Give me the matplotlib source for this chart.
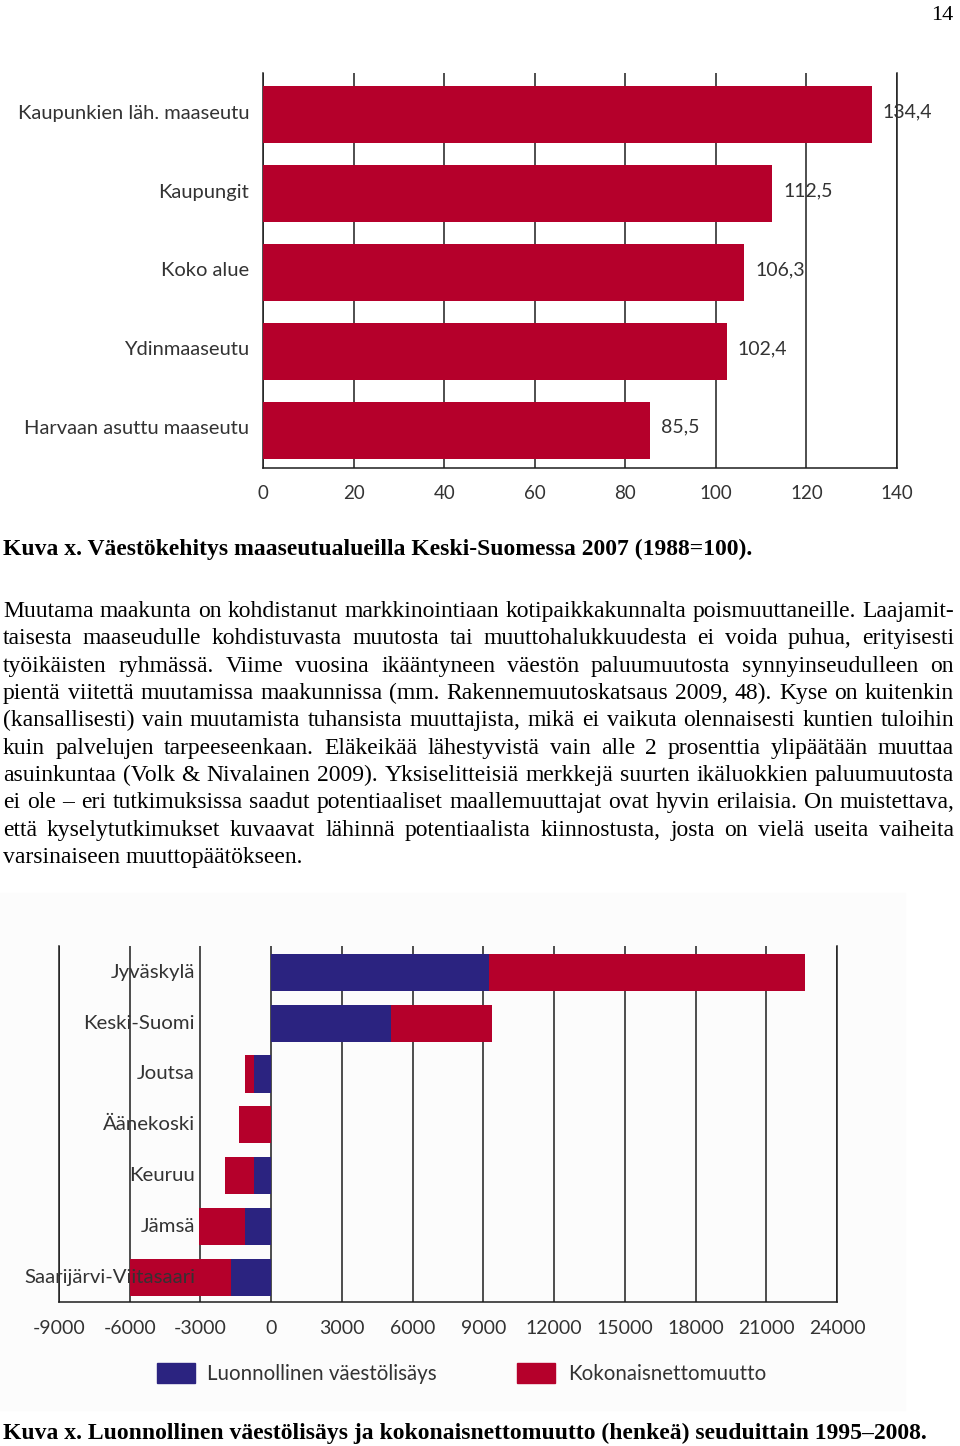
import matplotlib
matplotlib.use('Agg')
import matplotlib.pyplot as plt
from matplotlib.patches import Rectangle

# --- data: ylempi kuva (1988=100)
areas = ['Kaupunkien läh. maaseutu', 'Kaupungit', 'Koko alue', 'Ydinmaaseutu', 'Harvaan asuttu maaseutu']
index_2007 = [134.4, 112.5, 106.3, 102.4, 85.5]
index_ticks = [0, 20, 40, 60, 80, 100, 120, 140]

# --- data: alempi kuva (henkeä 1995-2008)
regions = ['Jyväskylä', 'Keski-Suomi', 'Joutsa', 'Äänekoski', 'Keuruu', 'Jämsä', 'Saarijärvi-Viitasaari']
natural = [9230, 5100, -735, 0, -735, -1120, -1690]
net_migration = [13430, 4280, -380, -1360, -1210, -1940, -4300]
people_ticks = [-9000, -6000, -3000, 0, 3000, 6000, 9000, 12000, 15000, 18000, 21000, 24000]
legend_labels = ['Luonnollinen väestölisäys', 'Kokonaisnettomuutto']

caption1 = 'Kuva x. Väestökehitys maaseutualueilla Keski-Suomessa 2007 (1988=100).'
caption2 = 'Kuva x. Luonnollinen väestölisäys ja kokonaisnettomuutto (henkeä) seuduittain 1995–2008.'
body = [
    'Muutama maakunta on kohdistanut markkinointiaan kotipaikkakunnalta poismuuttaneille. Laajamit-',
    'taisesta maaseudulle kohdistuvasta muutosta tai muuttohalukkuudesta ei voida puhua, erityisesti',
    'työikäisten ryhmässä. Viime vuosina ikääntyneen väestön paluumuutosta synnyinseudulleen on',
    'pientä viitettä muutamissa maakunnissa (mm. Rakennemuutoskatsaus 2009, 48). Kyse on kuitenkin',
    '(kansallisesti) vain muutamista tuhansista muuttajista, mikä ei vaikuta olennaisesti kuntien tuloihin',
    'kuin palvelujen tarpeeseenkaan. Eläkeikää lähestyvistä vain alle 2 prosenttia ylipäätään muuttaa',
    'asuinkuntaa (Volk & Nivalainen 2009). Yksiselitteisiä merkkejä suurten ikäluokkien paluumuutosta',
    'ei ole – eri tutkimuksissa saadut potentiaaliset maallemuuttajat ovat hyvin erilaisia. On muistettava,',
    'että kyselytutkimukset kuvaavat lähinnä potentiaalista kiinnostusta, josta on vielä useita vaiheita',
    'varsinaiseen muuttopäätökseen.',
]

RED = '#b5002b'
BLUE = '#2b2380'
GRID = '#1e1e1e'
TXT = '#333333'
SANS = 'Lato'
SERIF = 'Liberation Serif'

W, H = 960, 1446
fig = plt.figure(figsize=(W / 100, H / 100), dpi=100)


def px_axes(x0, y0, x1, y1):
    return fig.add_axes([x0 / W, 1 - y1 / H, (x1 - x0) / W, (y1 - y0) / H])


def style_axes(ax):
    ax.spines['top'].set_visible(False)
    for s in ['left', 'right', 'bottom']:
        ax.spines[s].set_color(GRID)
        ax.spines[s].set_linewidth(1.1)
    ax.grid(axis='x', color=GRID, linewidth=1.1, zorder=0)
    ax.set_axisbelow(True)


# page background of the lower chart
fig.patches.append(Rectangle((0, 1 - 1410 / H), 905 / W, (1410 - 893) / H,
                             transform=fig.transFigure, color='#fcfcfc', zorder=-10))

# ---------- ylempi kuva
ax1 = px_axes(263, 73, 897, 468)
ypos = list(range(len(areas)))
ax1.barh(ypos, index_2007, height=0.72, color=RED, zorder=3)
ax1.set_xlim(0, 140)
ax1.set_ylim(4.48, -0.526)
ax1.set_xticks(index_ticks)
ax1.set_xticklabels([str(t) for t in index_ticks], fontsize=13.5, family=SANS, color=TXT)
ax1.set_yticks([])
ax1.tick_params(axis='x', length=0, pad=12)
style_axes(ax1)
for i, name in enumerate(areas):
    ax1.annotate(name, xy=(0, i), xytext=(-10, 1), textcoords='offset points',
                 ha='right', va='center', fontsize=14.5, family=SANS, color=TXT,
                 annotation_clip=False)
for i, v in enumerate(index_2007):
    ax1.annotate(f'{v:.1f}'.replace('.', ','), xy=(v, i), xytext=(8, 2),
                 textcoords='offset points', va='center', ha='left',
                 fontsize=14, family=SANS, color=TXT)

# ---------- alempi kuva
ax2 = px_axes(59, 946, 837, 1302)
ax2.patch.set_alpha(0)
ypos2 = list(range(len(regions)))
ax2.barh(ypos2, natural, height=0.73, color=BLUE, zorder=3, label=legend_labels[0])
ax2.barh(ypos2, net_migration, left=natural, height=0.73, color=RED, zorder=3,
         label=legend_labels[1])
ax2.set_xlim(-9000, 24000)
ax2.set_ylim(6.49, -0.52)
ax2.set_xticks(people_ticks)
ax2.set_xticklabels([str(t) for t in people_ticks], fontsize=14, family=SANS, color=TXT)
ax2.set_yticks([])
ax2.tick_params(axis='x', length=0, pad=13)
style_axes(ax2)
for i, name in enumerate(regions):
    ax2.text(0.1748, i, name, transform=ax2.get_yaxis_transform(), ha='right', va='center',
             fontsize=14.7, family=SANS, color=TXT, zorder=6)

# legend
for (bx, tx), col, lab in zip([(157, 207), (517, 568)], [BLUE, RED], legend_labels):
    fig.patches.append(Rectangle((bx / W, 1 - 1383 / H), 38 / W, 20 / H,
                                 transform=fig.transFigure, color=col))
    fig.text(tx / W, 1 - 1374 / H, lab, ha='left', va='center',
             fontsize=14.8, family=SANS, color=TXT)

# ---------- tekstit
fig.text(953 / W, 1 - 20 / H, '14', ha='right', va='baseline', fontsize=16, family=SERIF)
fig.text(3 / W, 1 - 555 / H, caption1, ha='left', va='baseline', fontsize=17,
         family=SERIF, weight='bold')
fig.text(3 / W, 1 - 1439 / H, caption2, ha='left', va='baseline', fontsize=17,
         family=SERIF, weight='bold')

renderer = fig.canvas.get_renderer()
x_left, x_right = 3, 954
for n, line in enumerate(body):
    y = 617 + 27.35 * n
    words = line.split(' ')
    texts = [fig.text(0, 1 - y / H, w, ha='left', va='baseline', fontsize=17, family=SERIF)
             for w in words]
    widths = [t.get_window_extent(renderer).width for t in texts]
    if n == len(body) - 1:
        gap = 5.5
    else:
        gap = (x_right - x_left - sum(widths)) / (len(words) - 1)
    x = x_left
    for t, w in zip(texts, widths):
        t.set_x(x / W)
        x += w + gap

plt.savefig('out.png', dpi=100)
